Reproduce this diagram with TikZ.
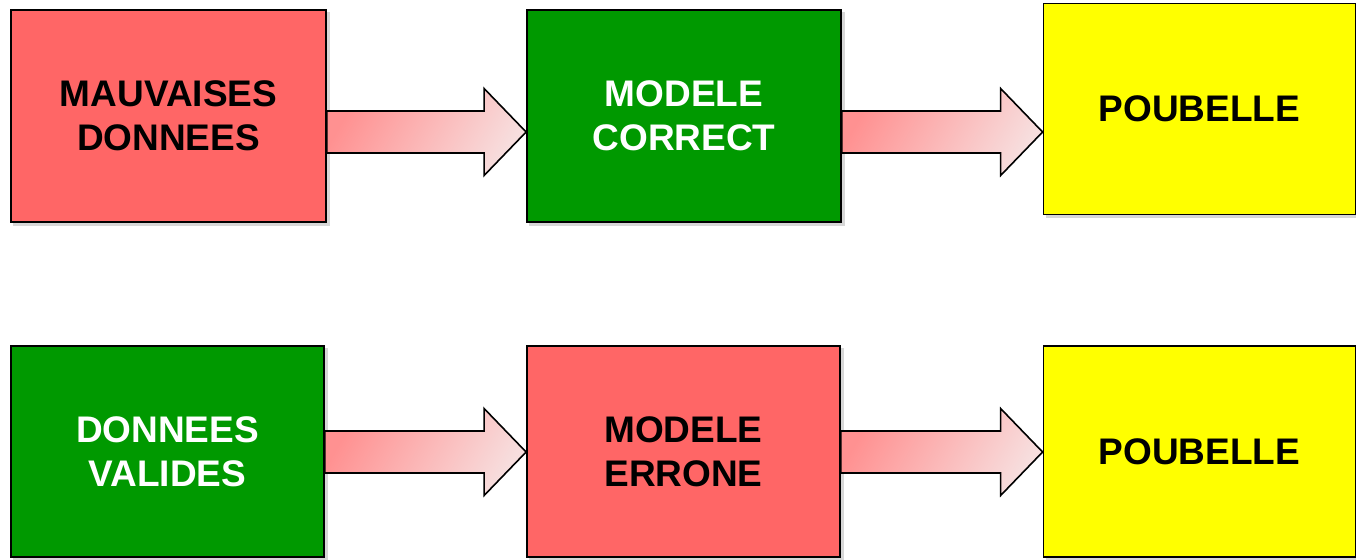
\documentclass[tikz,border=0pt]{standalone}
\usepackage{fontspec}
\setmainfont{Liberation Sans}
\usetikzlibrary{calc}
\definecolor{boxred}{RGB}{255,102,102}
\definecolor{boxgreen}{RGB}{0,153,0}
\definecolor{boxyellow}{RGB}{255,255,0}
\definecolor{arrA}{RGB}{255,145,145}
\definecolor{arrB}{RGB}{247,222,222}
\definecolor{shadowgray}{RGB}{215,215,215}
\tikzset{
  box/.style={draw=black, line width=1.8pt, inner sep=0pt, align=center,
    font=\fontsize{37}{44}\selectfont\bfseries},
  redbox/.style={box, fill=boxred, text=black},
  greenbox/.style={box, fill=boxgreen, text=white},
  yellowbox/.style={box, fill=boxyellow, text=black},
  fatarrow/.style={draw=black, line width=1.6pt, line join=miter,
    left color=arrA, right color=arrB, shading angle=60},
}
\newcommand{\boxshadow}[1]{%
  \fill[shadowgray] ($(#1.south west)+(3,3)$) rectangle ($(#1.north east)+(3,3)$);}
\newcommand{\fatarr}[2]{% start coordinate, end coordinate
  \shadedraw[fatarrow] ($(#1)+(0,-21)$) -- ($(#2)+(-42,-21)$) -- ($(#2)+(-42,-43.5)$)
    -- (#2) -- ($(#2)+(-42,43.5)$) -- ($(#2)+(-42,21)$) -- ($(#1)+(0,21)$) -- cycle;}
\begin{document}
\begin{tikzpicture}[x=1pt,y=-1pt]
\useasboundingbox (0,0) rectangle (1356,559);
% nodes (positions only)
\path (168.5,116) node[redbox, minimum width=315, minimum height=212, opacity=0] (b1) {}
      (684,116) node[greenbox, minimum width=314, minimum height=212, opacity=0] (b2) {}
      (1199.5,109) node[yellowbox, minimum width=312, minimum height=211, opacity=0] (b3) {}
      (167.5,451.5) node[greenbox, minimum width=313, minimum height=211, opacity=0] (b4) {}
      (683.5,451.5) node[redbox, minimum width=313, minimum height=211, opacity=0] (b5) {}
      (1199.5,451.5) node[yellowbox, minimum width=312, minimum height=211, opacity=0] (b6) {};
\boxshadow{b1}\boxshadow{b2}\boxshadow{b3}\boxshadow{b4}\boxshadow{b5}\boxshadow{b6}
\node[redbox, minimum width=315, minimum height=212] at (b1) {MAUVAISES\\DONNEES};
\node[greenbox, minimum width=314, minimum height=212] at (b2) {MODELE\\CORRECT};
\node[yellowbox, minimum width=312, minimum height=211] at (b3) {POUBELLE};
\node[greenbox, minimum width=313, minimum height=211] at (b4) {DONNEES\\VALIDES};
\node[redbox, minimum width=313, minimum height=211] at (b5) {MODELE\\ERRONE};
\node[yellowbox, minimum width=312, minimum height=211] at (b6) {POUBELLE};
% arrows
\coordinate (a1s) at (b1.east |- 0,132);
\coordinate (a1e) at (b2.west |- 0,132);
\coordinate (a2s) at (b2.east |- 0,132);
\coordinate (a2e) at (b3.west |- 0,132);
\coordinate (a3s) at (b4.east |- 0,452);
\coordinate (a3e) at (b5.west |- 0,452);
\coordinate (a4s) at (b5.east |- 0,452);
\coordinate (a4e) at (b6.west |- 0,452);
\fatarr{a1s}{a1e}
\fatarr{a2s}{a2e}
\fatarr{a3s}{a3e}
\fatarr{a4s}{a4e}
\end{tikzpicture}
\end{document}
